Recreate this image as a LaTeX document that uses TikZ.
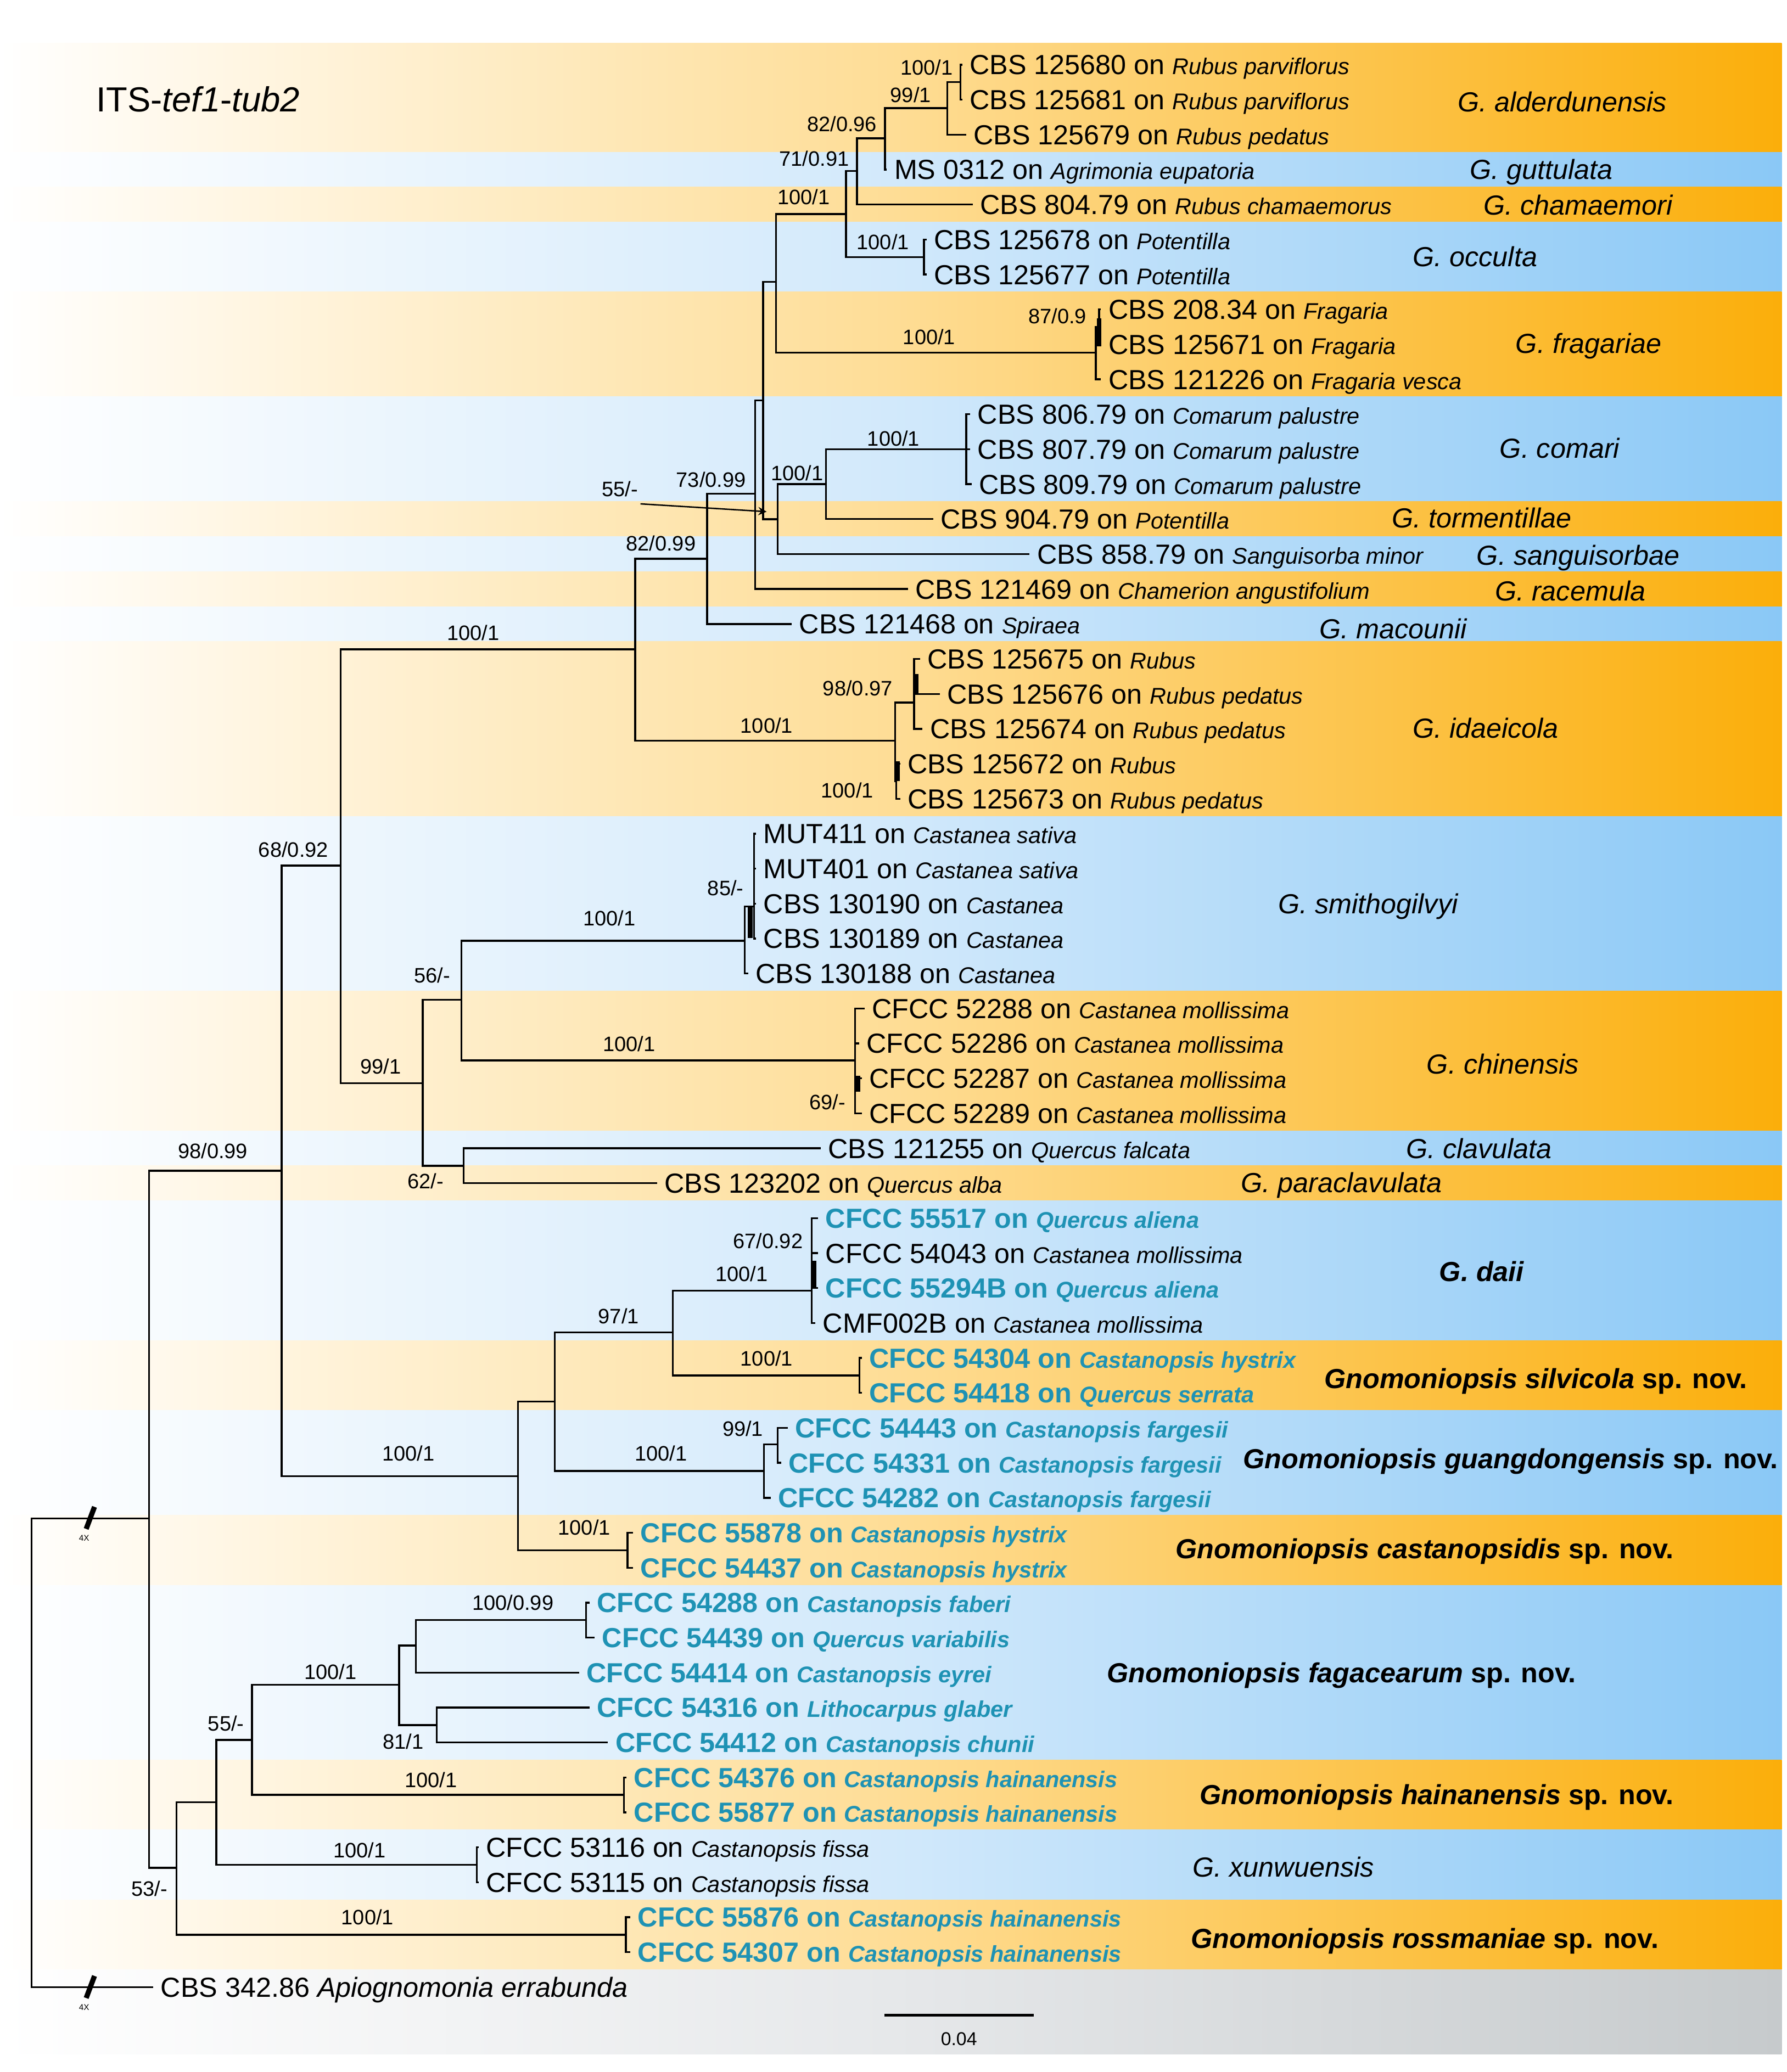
\documentclass[tikz,border=0pt]{standalone}
\usepackage{fontspec}
\setmainfont{Liberation Sans}
\usetikzlibrary{arrows}

\definecolor{orR}{RGB}{251,174,10}
\definecolor{orM}{RGB}{254,221,150}
\definecolor{blR}{RGB}{138,200,246}
\definecolor{blM}{RGB}{210,233,251}
\definecolor{grR}{RGB}{198,202,204}
\definecolor{grM}{RGB}{230,232,234}
\definecolor{newcol}{RGB}{30,146,180}

\newcommand{\strainfont}{\fontsize{11.9}{13}\selectfont}
\newcommand{\hostfont}{\fontsize{9.8}{11}\selectfont\itshape}
\newcommand{\supfont}{\fontsize{9}{10}\selectfont}
\newcommand{\onhost}[2]{#1 on {\hostfont #2}}

\tikzstyle{orband} = [left color=white, right color=orR, middle color=orM]
\tikzstyle{blband} = [left color=white, right color=blR, middle color=blM]
\tikzstyle{grband} = [left color=white, right color=grR, middle color=grM]
\tikzstyle{branch} = [line width=0.8pt, black]
\tikzstyle{bar} = [line width=2pt, black]
\tikzstyle{brk} = [line width=2.2pt, black]
\tikzstyle{tip} = [anchor=west, inner xsep=3pt, inner ysep=0pt, text height=8.5pt, text depth=0pt, font=\strainfont]
\tikzstyle{newtip} = [tip, text=newcol, font=\strainfont\bfseries]
\tikzstyle{support} = [inner sep=0pt, font=\supfont]
\tikzstyle{clade} = [inner sep=0pt, text height=8.5pt, text depth=0pt, font=\strainfont\itshape]
\tikzstyle{newclade} = [clade, font=\strainfont\bfseries]
\tikzstyle{arrow} = [line width=0.6pt,->,>=stealth]

\begin{document}
\begin{tikzpicture}[x=0.02cm, y=-0.02cm]
    \useasboundingbox (0,0) rectangle (1352,1568);
    \fill[white] (0,0) rectangle (1352,1568);

    % Bands
    \shade[orband] (0,32.5) rectangle (1348,115.1);
    \shade[blband] (0,115.1) rectangle (1348,141.6);
    \shade[orband] (0,141.6) rectangle (1348,168.0);
    \shade[blband] (0,168.0) rectangle (1348,220.9);
    \shade[orband] (0,220.9) rectangle (1348,300.3);
    \shade[blband] (0,300.3) rectangle (1348,379.6);
    \shade[orband] (0,379.6) rectangle (1348,406.1);
    \shade[blband] (0,406.1) rectangle (1348,432.5);
    \shade[orband] (0,432.5) rectangle (1348,459.0);
    \shade[blband] (0,459.0) rectangle (1348,485.4);
    \shade[orband] (0,485.4) rectangle (1348,617.7);
    \shade[blband] (0,617.7) rectangle (1348,749.9);
    \shade[orband] (0,749.9) rectangle (1348,855.7);
    \shade[blband] (0,855.7) rectangle (1348,882.2);
    \shade[orband] (0,882.2) rectangle (1348,908.6);
    \shade[blband] (0,908.6) rectangle (1348,1014.4);
    \shade[orband] (0,1014.4) rectangle (1348,1067.3);
    \shade[blband] (0,1067.3) rectangle (1348,1146.7);
    \shade[orband] (0,1146.7) rectangle (1348,1199.6);
    \shade[blband] (0,1199.6) rectangle (1348,1331.8);
    \shade[orband] (0,1331.8) rectangle (1348,1384.7);
    \shade[blband] (0,1384.7) rectangle (1348,1437.6);
    \shade[orband] (0,1437.6) rectangle (1348,1490.5);
    \shade[grband] (0,1490.5) rectangle (1348,1554.5);

    \node (title) [anchor=base west, inner sep=0pt, font=\fontsize{15}{17}\selectfont] at (72.7,84.4) {ITS-\textit{tef1}-\textit{tub2}};

    % Internal nodes
    \coordinate (root) at (23.8,1326);
    \coordinate (ing) at (112.8,1149);
    \coordinate (n98) at (213,886);
    \coordinate (n68) at (257.8,655);
    \coordinate (n100a) at (480.6,491.4);
    \coordinate (n82b) at (535,422.8);
    \coordinate (n73) at (571.2,373.6);
    \coordinate (n577) at (577.3,303.1);
    \coordinate (n587) at (587,213.3);
    \coordinate (n100b) at (640,162);
    \coordinate (n71) at (648.4,129.5);
    \coordinate (n82a) at (669.6,104.7);
    \coordinate (n99a) at (716.8,81.8);
    \coordinate (n100c) at (726.6,62.2);
    \coordinate (nocc) at (699,194.5);
    \coordinate (nfrag) at (829,266.8);
    \coordinate (n87) at (831.5,247.4);
    \coordinate (n55a) at (588.4,392.9);
    \coordinate (n100d) at (625,366.4);
    \coordinate (ncom) at (731,340);
    \coordinate (nida) at (677.2,560.6);
    \coordinate (n98b) at (691.6,531.6);
    \coordinate (n100e) at (678,591.2);
    \coordinate (n99b) at (319.8,819.6);
    \coordinate (n56) at (349,756.7);
    \coordinate (nsmi) at (563.5,711.9);
    \coordinate (n85) at (570.4,686);
    \coordinate (nchi) at (647,802.4);
    \coordinate (n62) at (350.8,882.2);
    \coordinate (n100f) at (392,1117);
    \coordinate (n420) at (419.6,1060.7);
    \coordinate (n97) at (509,1008.3);
    \coordinate (ndai) at (614,976.8);
    \coordinate (nsil) at (650.3,1040.9);
    \coordinate (ngua) at (578,1113.2);
    \coordinate (n99c) at (588.3,1093.1);
    \coordinate (ncas) at (474.7,1173.1);
    \coordinate (n53) at (133.5,1413.5);
    \coordinate (n164) at (163.7,1363.8);
    \coordinate (n55b) at (190.7,1316.7);
    \coordinate (n100g) at (301.9,1275);
    \coordinate (n315) at (314.6,1245.2);
    \coordinate (n100h) at (443.3,1226);
    \coordinate (n81) at (330.5,1305.4);
    \coordinate (nhai) at (472,1358.3);
    \coordinate (nxun) at (360.7,1411.2);
    \coordinate (nros) at (473.5,1464.1);

    % Tips
    \node (t1) [tip] at (728,49) {\onhost{CBS 125680}{Rubus parviflorus}};
    \node (t2) [tip] at (728,75.45) {\onhost{CBS 125681}{Rubus parviflorus}};
    \node (t3) [tip] at (731,101.9) {\onhost{CBS 125679}{Rubus pedatus}};
    \node (t4) [tip] at (671,128.35) {\onhost{MS 0312}{Agrimonia eupatoria}};
    \node (t5) [tip] at (736,154.8) {\onhost{CBS 804.79}{Rubus chamaemorus}};
    \node (t6) [tip] at (701,181.25) {\onhost{CBS 125678}{Potentilla}};
    \node (t7) [tip] at (701,207.7) {\onhost{CBS 125677}{Potentilla}};
    \node (t8) [tip] at (833,234.15) {\onhost{CBS 208.34}{Fragaria}};
    \node (t9) [tip] at (833,260.6) {\onhost{CBS 125671}{Fragaria}};
    \node (t10) [tip] at (833,287.05) {\onhost{CBS 121226}{Fragaria vesca}};
    \node (t11) [tip] at (734,313.5) {\onhost{CBS 806.79}{Comarum palustre}};
    \node (t12) [tip] at (734,339.95) {\onhost{CBS 807.79}{Comarum palustre}};
    \node (t13) [tip] at (735,366.4) {\onhost{CBS 809.79}{Comarum palustre}};
    \node (t14) [tip] at (706,392.85) {\onhost{CBS 904.79}{Potentilla}};
    \node (t15) [tip] at (779,419.3) {\onhost{CBS 858.79}{Sanguisorba minor}};
    \node (t16) [tip] at (687,445.75) {\onhost{CBS 121469}{Chamerion angustifolium}};
    \node (t17) [tip] at (599,472.2) {\onhost{CBS 121468}{Spiraea}};
    \node (t18) [tip] at (696,498.65) {\onhost{CBS 125675}{Rubus}};
    \node (t19) [tip] at (711,525.1) {\onhost{CBS 125676}{Rubus pedatus}};
    \node (t20) [tip] at (698,551.55) {\onhost{CBS 125674}{Rubus pedatus}};
    \node (t21) [tip] at (681,578) {\onhost{CBS 125672}{Rubus}};
    \node (t22) [tip] at (681,604.45) {\onhost{CBS 125673}{Rubus pedatus}};
    \node (t23) [tip] at (572,630.9) {\onhost{MUT411}{Castanea sativa}};
    \node (t24) [tip] at (572,657.35) {\onhost{MUT401}{Castanea sativa}};
    \node (t25) [tip] at (572,683.8) {\onhost{CBS 130190}{Castanea}};
    \node (t26) [tip] at (572,710.25) {\onhost{CBS 130189}{Castanea}};
    \node (t27) [tip] at (566,736.7) {\onhost{CBS 130188}{Castanea}};
    \node (t28) [tip] at (654,763.15) {\onhost{CFCC 52288}{Castanea mollissima}};
    \node (t29) [tip] at (650,789.6) {\onhost{CFCC 52286}{Castanea mollissima}};
    \node (t30) [tip] at (652,816.05) {\onhost{CFCC 52287}{Castanea mollissima}};
    \node (t31) [tip] at (652,842.5) {\onhost{CFCC 52289}{Castanea mollissima}};
    \node (t32) [tip] at (621,868.95) {\onhost{CBS 121255}{Quercus falcata}};
    \node (t33) [tip] at (497,895.4) {\onhost{CBS 123202}{Quercus alba}};
    \node (t34) [newtip] at (619,921.85) {\onhost{CFCC 55517}{Quercus aliena}};
    \node (t35) [tip] at (619,948.3) {\onhost{CFCC 54043}{Castanea mollissima}};
    \node (t36) [newtip] at (619,974.75) {\onhost{CFCC 55294B}{Quercus aliena}};
    \node (t37) [tip] at (617,1001.2) {\onhost{CMF002B}{Castanea mollissima}};
    \node (t38) [newtip] at (652,1027.65) {\onhost{CFCC 54304}{Castanopsis hystrix}};
    \node (t39) [newtip] at (652,1054.1) {\onhost{CFCC 54418}{Quercus serrata}};
    \node (t40) [newtip] at (596,1080.55) {\onhost{CFCC 54443}{Castanopsis fargesii}};
    \node (t41) [newtip] at (591,1107) {\onhost{CFCC 54331}{Castanopsis fargesii}};
    \node (t42) [newtip] at (583,1133.45) {\onhost{CFCC 54282}{Castanopsis fargesii}};
    \node (t43) [newtip] at (479,1159.9) {\onhost{CFCC 55878}{Castanopsis hystrix}};
    \node (t44) [newtip] at (479,1186.35) {\onhost{CFCC 54437}{Castanopsis hystrix}};
    \node (t45) [newtip] at (446,1212.8) {\onhost{CFCC 54288}{Castanopsis faberi}};
    \node (t46) [newtip] at (450,1239.25) {\onhost{CFCC 54439}{Quercus variabilis}};
    \node (t47) [newtip] at (438,1265.7) {\onhost{CFCC 54414}{Castanopsis eyrei}};
    \node (t48) [newtip] at (446,1292.15) {\onhost{CFCC 54316}{Lithocarpus glaber}};
    \node (t49) [newtip] at (460,1318.6) {\onhost{CFCC 54412}{Castanopsis chunii}};
    \node (t50) [newtip] at (474,1345.05) {\onhost{CFCC 54376}{Castanopsis hainanensis}};
    \node (t51) [newtip] at (474,1371.5) {\onhost{CFCC 55877}{Castanopsis hainanensis}};
    \node (t52) [tip] at (362,1397.95) {\onhost{CFCC 53116}{Castanopsis fissa}};
    \node (t53) [tip] at (362,1424.4) {\onhost{CFCC 53115}{Castanopsis fissa}};
    \node (t54) [newtip] at (477,1450.85) {\onhost{CFCC 55876}{Castanopsis hainanensis}};
    \node (t55) [newtip] at (477,1477.3) {\onhost{CFCC 54307}{Castanopsis hainanensis}};
    \node (t56) [tip] at (116,1503.75) {CBS 342.86 \textit{Apiognomonia errabunda}};

    % Branches
    \draw [branch] (root) |- (ing);
    \draw [branch] (root) |- (t56.west);
    \draw [branch] (ing) |- (n98);
    \draw [branch] (ing) |- (n53);
    \draw [branch] (n98) |- (n68);
    \draw [branch] (n98) |- (n100f);
    \draw [branch] (n68) |- (n100a);
    \draw [branch] (n68) |- (n99b);
    \draw [branch] (n100a) |- (n82b);
    \draw [branch] (n100a) |- (nida);
    \draw [branch] (n82b) |- (n73);
    \draw [branch] (n82b) |- (t17.west);
    \draw [branch] (n73) |- (n577);
    \draw [branch] (n73) |- (t16.west);
    \draw [branch] (n577) |- (n587);
    \draw [branch] (n577) |- (n55a);
    \draw [branch] (n587) |- (n100b);
    \draw [branch] (n587) |- (nfrag);
    \draw [branch] (n100b) |- (n71);
    \draw [branch] (n100b) |- (nocc);
    \draw [branch] (n71) |- (n82a);
    \draw [branch] (n71) |- (t5.west);
    \draw [branch] (n82a) |- (n99a);
    \draw [branch] (n82a) |- (t4.west);
    \draw [branch] (n99a) |- (n100c);
    \draw [branch] (n99a) |- (t3.west);
    \draw [branch] (n100c) |- (t1.west);
    \draw [branch] (n100c) |- (t2.west);
    \draw [branch] (nocc) |- (t6.west);
    \draw [branch] (nocc) |- (t7.west);
    \draw [branch] (nfrag) |- (n87);
    \draw [branch] (nfrag) |- (t10.west);
    \draw [branch] (n87) |- (t8.west);
    \draw [branch] (n87) |- (t9.west);
    \draw [branch] (n55a) |- (n100d);
    \draw [branch] (n55a) |- (t15.west);
    \draw [branch] (n100d) |- (ncom);
    \draw [branch] (n100d) |- (t14.west);
    \draw [branch] (ncom) |- (t11.west);
    \draw [branch] (ncom) |- (t12.west);
    \draw [branch] (ncom) |- (t13.west);
    \draw [branch] (nida) |- (n98b);
    \draw [branch] (nida) |- (n100e);
    \draw [branch] (n98b) |- (t18.west);
    \draw [branch] (n98b) |- (t19.west);
    \draw [branch] (n98b) |- (t20.west);
    \draw [branch] (n100e) |- (t21.west);
    \draw [branch] (n100e) |- (t22.west);
    \draw [branch] (n99b) |- (n56);
    \draw [branch] (n99b) |- (n62);
    \draw [branch] (n56) |- (nsmi);
    \draw [branch] (n56) |- (nchi);
    \draw [branch] (nsmi) |- (n85);
    \draw [branch] (nsmi) |- (t27.west);
    \draw [branch] (n85) |- (t23.west);
    \draw [branch] (n85) |- (t24.west);
    \draw [branch] (n85) |- (t25.west);
    \draw [branch] (n85) |- (t26.west);
    \draw [branch] (nchi) |- (t28.west);
    \draw [branch] (nchi) |- (t29.west);
    \draw [branch] (nchi) |- (t30.west);
    \draw [branch] (nchi) |- (t31.west);
    \draw [branch] (n62) |- (t32.west);
    \draw [branch] (n62) |- (t33.west);
    \draw [branch] (n100f) |- (n420);
    \draw [branch] (n100f) |- (ncas);
    \draw [branch] (n420) |- (n97);
    \draw [branch] (n420) |- (ngua);
    \draw [branch] (n97) |- (ndai);
    \draw [branch] (n97) |- (nsil);
    \draw [branch] (ndai) |- (t34.west);
    \draw [branch] (ndai) |- (t35.west);
    \draw [branch] (ndai) |- (t36.west);
    \draw [branch] (ndai) |- (t37.west);
    \draw [branch] (nsil) |- (t38.west);
    \draw [branch] (nsil) |- (t39.west);
    \draw [branch] (ngua) |- (n99c);
    \draw [branch] (ngua) |- (t42.west);
    \draw [branch] (n99c) |- (t40.west);
    \draw [branch] (n99c) |- (t41.west);
    \draw [branch] (ncas) |- (t43.west);
    \draw [branch] (ncas) |- (t44.west);
    \draw [branch] (n53) |- (n164);
    \draw [branch] (n53) |- (nros);
    \draw [branch] (n164) |- (n55b);
    \draw [branch] (n164) |- (nxun);
    \draw [branch] (n55b) |- (n100g);
    \draw [branch] (n55b) |- (nhai);
    \draw [branch] (n100g) |- (n315);
    \draw [branch] (n100g) |- (n81);
    \draw [branch] (n315) |- (n100h);
    \draw [branch] (n315) |- (t47.west);
    \draw [branch] (n100h) |- (t45.west);
    \draw [branch] (n100h) |- (t46.west);
    \draw [branch] (n81) |- (t48.west);
    \draw [branch] (n81) |- (t49.west);
    \draw [branch] (nhai) |- (t50.west);
    \draw [branch] (nhai) |- (t51.west);
    \draw [branch] (nxun) |- (t52.west);
    \draw [branch] (nxun) |- (t53.west);
    \draw [branch] (nros) |- (t54.west);
    \draw [branch] (nros) |- (t55.west);

    % short inner branches
    \coordinate (b87a) at (831.5,241); \coordinate (b87b) at (831.5,262);
    \coordinate (b98a) at (693.3,510); \coordinate (b98b) at (693.3,525);
    \coordinate (b100a) at (679,576); \coordinate (b100b) at (679,591);
    \coordinate (b85a) at (567.5,686); \coordinate (b85b) at (567.5,710);
    \coordinate (b69a) at (649,814); \coordinate (b69b) at (649,826);
    \coordinate (b67a) at (616,954); \coordinate (b67b) at (616,974);
    \draw [bar] (b87a) -- (b87b);
    \draw [bar] (b98a) -- (b98b);
    \draw [bar] (b100a) -- (b100b);
    \draw [bar] (b85a) -- (b85b);
    \draw [bar] (b69a) -- (b69b);
    \draw [bar] (b67a) -- (b67b);

    % Breaks on the root branches
    \coordinate (brk1a) at (65.2,1157); \coordinate (brk1b) at (71.5,1140.3);
    \coordinate (brk2a) at (65.2,1512); \coordinate (brk2b) at (71.5,1495.3);
    \draw [brk] (brk1a) -- (brk1b);
    \draw [brk] (brk2a) -- (brk2b);
    \node (x4a) [inner sep=0pt, font=\fontsize{3.6}{4}\selectfont] at (63.6,1164) {4X};
    \node (x4b) [inner sep=0pt, font=\fontsize{3.6}{4}\selectfont] at (63.6,1519) {4X};

    % Support values
    \node (s1) [support] at (701,51) {100/1};
    \node (s2) [support] at (689,72) {99/1};
    \node (s3) [support] at (637,94) {82/0.96};
    \node (s4) [support] at (616,120) {71/0.91};
    \node (s5) [support] at (608,149) {100/1};
    \node (s6) [support] at (668,183) {100/1};
    \node (s7) [support] at (800,239) {87/0.9};
    \node (s8) [support] at (703,255) {100/1};
    \node (s9) [support] at (676,332) {100/1};
    \node (s10) [support] at (603,358) {100/1};
    \node (s11) [support] at (469,370) {55/-};
    \node (s12) [support] at (538,363) {73/0.99};
    \node (s13) [support] at (500,411) {82/0.99};
    \node (s14) [support] at (358,479) {100/1};
    \node (s15) [support] at (649,521) {98/0.97};
    \node (s16) [support] at (580,549) {100/1};
    \node (s17) [support] at (641,598) {100/1};
    \node (s18) [support] at (222,643) {68/0.92};
    \node (s19) [support] at (549,672) {85/-};
    \node (s20) [support] at (461,695) {100/1};
    \node (s21) [support] at (327,738) {56/-};
    \node (s22) [support] at (476,790) {100/1};
    \node (s23) [support] at (288,807) {99/1};
    \node (s24) [support] at (626,834) {69/-};
    \node (s25) [support] at (161,871) {98/0.99};
    \node (s26) [support] at (322,894) {62/-};
    \node (s27) [support] at (581,939) {67/0.92};
    \node (s28) [support] at (561,964) {100/1};
    \node (s29) [support] at (468,996) {97/1};
    \node (s30) [support] at (580,1028) {100/1};
    \node (s31) [support] at (562,1081) {99/1};
    \node (s32) [support] at (309,1100) {100/1};
    \node (s33) [support] at (500,1100) {100/1};
    \node (s34) [support] at (442,1156) {100/1};
    \node (s35) [support] at (388,1213) {100/0.99};
    \node (s36) [support] at (250,1265) {100/1};
    \node (s37) [support] at (171,1304) {55/-};
    \node (s38) [support] at (305,1318) {81/1};
    \node (s39) [support] at (326,1347) {100/1};
    \node (s40) [support] at (272,1400) {100/1};
    \node (s41) [support] at (113,1429) {53/-};
    \node (s42) [support] at (278,1451) {100/1};

    % Arrows
    \coordinate (a55s) at (484.6,381.3);
    \coordinate (a55e) at (580,387.2);
    \draw [arrow] (a55s) -- (a55e);

    % Species
    \node (cAld) [clade] at (1182,77) {G. alderdunensis};
    \node (cGut) [clade] at (1166,128) {G. guttulata};
    \node (cCha) [clade] at (1194,155) {G. chamaemori};
    \node (cOcc) [clade] at (1116,194) {G. occulta};
    \node (cFra) [clade] at (1202,260) {G. fragariae};
    \node (cCom) [clade] at (1180,339) {G. comari};
    \node (cTor) [clade] at (1121,392) {G. tormentillae};
    \node (cSan) [clade] at (1194,420) {G. sanguisorbae};
    \node (cRac) [clade] at (1188,447) {G. racemula};
    \node (cMac) [clade] at (1054,476) {G. macounii};
    \node (cIda) [clade] at (1124,551) {G. idaeicola};
    \node (cSmi) [clade] at (1035,684) {G. smithogilvyi};
    \node (cChi) [clade] at (1137,805) {G. chinensis};
    \node (cCla) [clade] at (1119,869) {G. clavulata};
    \node (cPar) [clade] at (1015,895) {G. paraclavulata};
    \node (cDai) [clade] at (1121,962) {\bfseries G. daii};
    \node (cSil) [newclade] at (1162,1043) {\textit{Gnomoniopsis silvicola} sp. nov.};
    \node (cGua) [newclade] at (1143,1104) {\textit{Gnomoniopsis guangdongensis} sp. nov.};
    \node (cCas) [newclade] at (1078,1172) {\textit{Gnomoniopsis castanopsidis} sp. nov.};
    \node (cFag) [newclade] at (1015,1266) {\textit{Gnomoniopsis fagacearum} sp. nov.};
    \node (cHai) [newclade] at (1087,1358) {\textit{Gnomoniopsis hainanensis} sp. nov.};
    \node (cXun) [clade] at (971,1413) {G. xunwuensis};
    \node (cRos) [newclade] at (1078,1467) {\textit{Gnomoniopsis rossmaniae} sp. nov.};

    % Scale
    \coordinate (sc1) at (669.3,1524.8);
    \coordinate (sc2) at (782.3,1524.8);
    \draw [line width=1.2pt] (sc1) -- (sc2);
    \node (scl) [inner sep=0pt, font=\fontsize{8}{9}\selectfont] at (725.5,1543) {0.04};
\end{tikzpicture}
\end{document}
